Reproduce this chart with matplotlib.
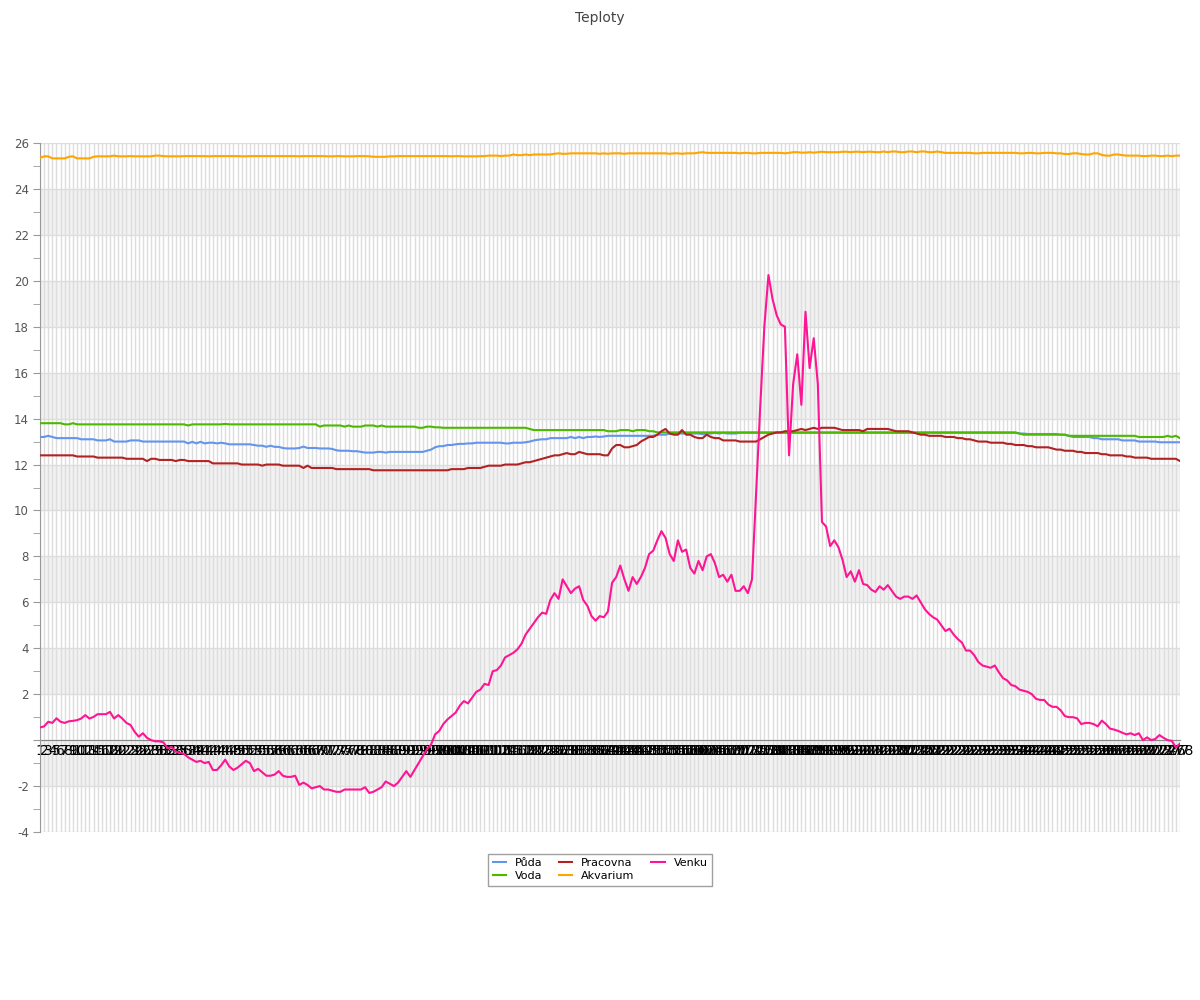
import matplotlib
matplotlib.use("Agg")
import matplotlib.pyplot as plt
import numpy as np

# Temperature readings (one per sample)
venku = [
    0.55, 0.6, 0.8, 0.75, 0.95, 0.8, 0.75, 0.82, 0.84, 0.87,
    0.94, 1.09, 0.94, 1.01, 1.13, 1.13, 1.13, 1.23, 0.94, 1.09,
    0.94, 0.75, 0.66, 0.36, 0.15, 0.3, 0.1, 0.0, -0.05, -0.05,
    -0.1, -0.35, -0.3, -0.5, -0.55, -0.6, -0.75, -0.85, -0.95, -0.9,
    -1.0, -0.95, -1.3, -1.3, -1.1, -0.85, -1.15, -1.3, -1.2, -1.05,
    -0.9, -1.0, -1.35, -1.25, -1.4, -1.55, -1.55, -1.5, -1.35, -1.55,
    -1.6, -1.6, -1.55, -1.95, -1.85, -1.95, -2.1, -2.05, -2.0, -2.15,
    -2.15, -2.2, -2.25, -2.25, -2.15, -2.15, -2.15, -2.15, -2.15, -2.05,
    -2.3, -2.25, -2.15, -2.05, -1.8, -1.9, -2.0, -1.85, -1.6, -1.35,
    -1.6, -1.3, -1.0, -0.7, -0.4, -0.2, 0.25, 0.4, 0.7, 0.9,
    1.05, 1.2, 1.5, 1.7, 1.6, 1.85, 2.1, 2.2, 2.45, 2.4,
    3.0, 3.05, 3.25, 3.6, 3.7, 3.8, 3.95, 4.2, 4.6, 4.85,
    5.1, 5.35, 5.55, 5.5, 6.1, 6.4, 6.15, 7.0, 6.7, 6.4,
    6.6, 6.7, 6.1, 5.85, 5.4, 5.2, 5.4, 5.35, 5.6, 6.85,
    7.1, 7.6, 7.0, 6.5, 7.1, 6.8, 7.1, 7.5, 8.1, 8.25,
    8.7, 9.1, 8.8, 8.1, 7.8, 8.7, 8.2, 8.3, 7.5, 7.25,
    7.8, 7.4, 8.0, 8.1, 7.7, 7.1, 7.2, 6.9, 7.2, 6.5,
    6.5, 6.7, 6.4, 7.0, 10.8, 14.5, 18.0, 20.25, 19.2, 18.5,
    18.1, 18.0, 12.4, 15.5, 16.8, 14.6, 18.65, 16.2, 17.5, 15.5,
    9.5, 9.3, 8.45, 8.7, 8.4, 7.85, 7.1, 7.35, 6.9, 7.4,
    6.8, 6.75, 6.55, 6.45, 6.7, 6.55, 6.75, 6.5, 6.25, 6.15,
    6.25, 6.25, 6.15, 6.3, 6.0, 5.7, 5.5, 5.35, 5.25, 5.0,
    4.75, 4.85, 4.6, 4.4, 4.25, 3.9, 3.9, 3.7, 3.4, 3.25,
    3.2, 3.15, 3.25, 2.95, 2.7, 2.6, 2.4, 2.35, 2.2, 2.15,
    2.1, 2.0, 1.8, 1.75, 1.75, 1.55, 1.45, 1.45, 1.3, 1.05,
    1.0, 1.0, 0.95, 0.7, 0.75, 0.75, 0.7, 0.6, 0.85, 0.7,
    0.5, 0.46, 0.4, 0.32, 0.25, 0.3, 0.22, 0.3, 0.0, 0.12,
    0.0, 0.05, 0.22, 0.1, 0.0, -0.03, -0.32, -0.15,
]

akvarium = [
    25.35, 25.42, 25.42, 25.33, 25.33, 25.33, 25.33, 25.4, 25.42, 25.33,
    25.33, 25.33, 25.33, 25.4, 25.42, 25.42, 25.42, 25.42, 25.45, 25.42,
    25.42, 25.42, 25.43, 25.42, 25.42, 25.42, 25.42, 25.42, 25.45, 25.45,
    25.43, 25.42, 25.42, 25.42, 25.42, 25.43, 25.43, 25.43, 25.43, 25.43,
    25.43, 25.42, 25.43, 25.43, 25.43, 25.43, 25.43, 25.43, 25.43, 25.42,
    25.42, 25.43, 25.43, 25.43, 25.43, 25.43, 25.43, 25.43, 25.43, 25.43,
    25.43, 25.43, 25.43, 25.42, 25.43, 25.43, 25.43, 25.43, 25.43, 25.43,
    25.42, 25.42, 25.43, 25.43, 25.42, 25.42, 25.42, 25.43, 25.43, 25.43,
    25.42, 25.4, 25.4, 25.4, 25.4, 25.42, 25.42, 25.43, 25.43, 25.43,
    25.43, 25.43, 25.43, 25.43, 25.43, 25.43, 25.43, 25.43, 25.43, 25.43,
    25.42, 25.43, 25.43, 25.42, 25.42, 25.42, 25.42, 25.43, 25.43, 25.45,
    25.45, 25.45, 25.43, 25.45, 25.45, 25.5, 25.47, 25.47, 25.5, 25.47,
    25.5, 25.5, 25.5, 25.5, 25.5, 25.53, 25.55, 25.53, 25.53, 25.55,
    25.55, 25.55, 25.55, 25.55, 25.55, 25.55, 25.53, 25.55, 25.53, 25.55,
    25.55, 25.55, 25.53, 25.55, 25.55, 25.55, 25.55, 25.55, 25.55, 25.55,
    25.55, 25.55, 25.55, 25.53, 25.55, 25.55, 25.53, 25.55, 25.55, 25.55,
    25.58, 25.6, 25.57, 25.57, 25.57, 25.57, 25.57, 25.57, 25.57, 25.57,
    25.55, 25.57, 25.57, 25.55, 25.55, 25.57, 25.57, 25.57, 25.57, 25.57,
    25.57, 25.55, 25.57, 25.6, 25.6, 25.58, 25.58, 25.6, 25.58, 25.6,
    25.62, 25.6, 25.6, 25.6, 25.6, 25.62, 25.62, 25.6, 25.62, 25.62,
    25.6, 25.62, 25.62, 25.6, 25.6, 25.63, 25.6, 25.63, 25.63, 25.6,
    25.6, 25.63, 25.63, 25.6, 25.63, 25.63, 25.6, 25.6, 25.63, 25.6,
    25.57, 25.57, 25.57, 25.57, 25.57, 25.57, 25.57, 25.55, 25.55, 25.57,
    25.57, 25.57, 25.57, 25.57, 25.57, 25.57, 25.57, 25.57, 25.55, 25.55,
    25.57, 25.57, 25.55, 25.55, 25.57, 25.57, 25.57, 25.55, 25.55, 25.52,
    25.52, 25.55, 25.55, 25.52, 25.5, 25.5, 25.55, 25.55, 25.48, 25.45,
    25.45, 25.5, 25.5, 25.47, 25.45, 25.45, 25.45, 25.45, 25.43, 25.43,
    25.45, 25.45, 25.43, 25.43, 25.45, 25.43, 25.45, 25.45,
]

voda = [
    13.8, 13.8, 13.8, 13.8, 13.8, 13.8, 13.75, 13.75, 13.8, 13.75,
    13.75, 13.75, 13.75, 13.75, 13.75, 13.75, 13.75, 13.75, 13.75, 13.75,
    13.75, 13.75, 13.75, 13.75, 13.75, 13.75, 13.75, 13.75, 13.75, 13.75,
    13.75, 13.75, 13.75, 13.75, 13.75, 13.75, 13.7, 13.75, 13.75, 13.75,
    13.75, 13.75, 13.75, 13.75, 13.75, 13.77, 13.75, 13.75, 13.75, 13.75,
    13.75, 13.75, 13.75, 13.75, 13.75, 13.75, 13.75, 13.75, 13.75, 13.75,
    13.75, 13.75, 13.75, 13.75, 13.75, 13.75, 13.75, 13.75, 13.65, 13.7,
    13.7, 13.7, 13.7, 13.7, 13.65, 13.7, 13.65, 13.65, 13.65, 13.7,
    13.7, 13.7, 13.65, 13.7, 13.65, 13.65, 13.65, 13.65, 13.65, 13.65,
    13.65, 13.65, 13.6, 13.6, 13.65, 13.65, 13.62, 13.62, 13.6, 13.6,
    13.6, 13.6, 13.6, 13.6, 13.6, 13.6, 13.6, 13.6, 13.6, 13.6,
    13.6, 13.6, 13.6, 13.6, 13.6, 13.6, 13.6, 13.6, 13.6, 13.55,
    13.5, 13.5, 13.5, 13.5, 13.5, 13.5, 13.5, 13.5, 13.5, 13.5,
    13.5, 13.5, 13.5, 13.5, 13.5, 13.5, 13.5, 13.5, 13.45, 13.45,
    13.45, 13.5, 13.5, 13.5, 13.45, 13.5, 13.5, 13.5, 13.45, 13.45,
    13.4, 13.4, 13.4, 13.4, 13.4, 13.4, 13.4, 13.4, 13.4, 13.4,
    13.4, 13.4, 13.4, 13.4, 13.4, 13.4, 13.4, 13.4, 13.4, 13.4,
    13.4, 13.4, 13.4, 13.4, 13.4, 13.4, 13.4, 13.4, 13.4, 13.4,
    13.4, 13.4, 13.4, 13.4, 13.4, 13.4, 13.4, 13.4, 13.4, 13.4,
    13.4, 13.4, 13.4, 13.4, 13.4, 13.4, 13.4, 13.4, 13.4, 13.4,
    13.4, 13.4, 13.4, 13.4, 13.4, 13.4, 13.4, 13.4, 13.4, 13.4,
    13.4, 13.4, 13.4, 13.4, 13.4, 13.4, 13.4, 13.4, 13.4, 13.4,
    13.4, 13.4, 13.4, 13.4, 13.4, 13.4, 13.4, 13.4, 13.4, 13.4,
    13.4, 13.4, 13.4, 13.4, 13.4, 13.4, 13.4, 13.4, 13.35, 13.3,
    13.3, 13.3, 13.3, 13.3, 13.3, 13.3, 13.3, 13.3, 13.3, 13.3,
    13.25, 13.25, 13.25, 13.25, 13.25, 13.25, 13.25, 13.25, 13.25, 13.25,
    13.25, 13.25, 13.25, 13.25, 13.25, 13.25, 13.25, 13.2, 13.2, 13.2,
    13.2, 13.2, 13.2, 13.2, 13.25, 13.2, 13.25, 13.15,
]

puda = [
    13.2, 13.2, 13.25, 13.2, 13.15, 13.15, 13.15, 13.15, 13.15, 13.15,
    13.1, 13.1, 13.1, 13.1, 13.05, 13.05, 13.05, 13.1, 13.0, 13.0,
    13.0, 13.0, 13.05, 13.05, 13.05, 13.0, 13.0, 13.0, 13.0, 13.0,
    13.0, 13.0, 13.0, 13.0, 13.0, 13.0, 12.92, 12.99, 12.92, 12.99,
    12.92, 12.95, 12.95, 12.92, 12.95, 12.92, 12.88, 12.88, 12.88, 12.88,
    12.88, 12.88, 12.85, 12.82, 12.82, 12.77, 12.82, 12.77, 12.77, 12.72,
    12.7, 12.7, 12.7, 12.72, 12.78, 12.72, 12.72, 12.72, 12.7, 12.7,
    12.7, 12.68, 12.62, 12.6, 12.6, 12.6, 12.58, 12.58, 12.55, 12.52,
    12.52, 12.52, 12.55, 12.55, 12.52, 12.55, 12.55, 12.55, 12.55, 12.55,
    12.55, 12.55, 12.55, 12.55, 12.6, 12.65, 12.75, 12.8, 12.8, 12.85,
    12.85, 12.88, 12.9, 12.9, 12.92, 12.92, 12.95, 12.95, 12.95, 12.95,
    12.95, 12.95, 12.95, 12.92, 12.92, 12.95, 12.95, 12.95, 12.97, 13.0,
    13.05, 13.08, 13.1, 13.1, 13.15, 13.15, 13.15, 13.15, 13.15, 13.2,
    13.15, 13.2, 13.15, 13.2, 13.2, 13.22, 13.2, 13.22, 13.25, 13.25,
    13.25, 13.25, 13.25, 13.25, 13.25, 13.25, 13.25, 13.25, 13.25, 13.25,
    13.3, 13.3, 13.3, 13.35, 13.35, 13.35, 13.35, 13.35, 13.35, 13.35,
    13.35, 13.32, 13.35, 13.35, 13.38, 13.35, 13.38, 13.35, 13.35, 13.35,
    13.38, 13.38, 13.38, 13.38, 13.38, 13.38, 13.38, 13.38, 13.38, 13.38,
    13.38, 13.38, 13.38, 13.38, 13.38, 13.38, 13.38, 13.38, 13.38, 13.38,
    13.38, 13.38, 13.38, 13.38, 13.38, 13.38, 13.38, 13.38, 13.38, 13.38,
    13.38, 13.38, 13.38, 13.38, 13.38, 13.38, 13.38, 13.38, 13.38, 13.38,
    13.38, 13.38, 13.38, 13.38, 13.38, 13.38, 13.38, 13.38, 13.38, 13.38,
    13.38, 13.38, 13.38, 13.38, 13.38, 13.38, 13.38, 13.38, 13.38, 13.38,
    13.38, 13.38, 13.38, 13.38, 13.38, 13.38, 13.38, 13.38, 13.35, 13.35,
    13.33, 13.33, 13.33, 13.33, 13.33, 13.33, 13.33, 13.33, 13.3, 13.3,
    13.25, 13.2, 13.2, 13.2, 13.2, 13.2, 13.15, 13.15, 13.1, 13.1,
    13.1, 13.1, 13.1, 13.05, 13.05, 13.05, 13.05, 13.0, 13.0, 13.0,
    13.0, 13.0, 12.97, 12.97, 12.97, 12.97, 12.97, 12.97,
]

pracovna = [
    12.4, 12.4, 12.4, 12.4, 12.4, 12.4, 12.4, 12.4, 12.4, 12.35,
    12.35, 12.35, 12.35, 12.35, 12.3, 12.3, 12.3, 12.3, 12.3, 12.3,
    12.3, 12.25, 12.25, 12.25, 12.25, 12.25, 12.15, 12.25, 12.25, 12.2,
    12.2, 12.2, 12.2, 12.15, 12.2, 12.2, 12.15, 12.15, 12.15, 12.15,
    12.15, 12.15, 12.05, 12.05, 12.05, 12.05, 12.05, 12.05, 12.05, 12.0,
    12.0, 12.0, 12.0, 12.0, 11.95, 12.0, 12.0, 12.0, 12.0, 11.95,
    11.95, 11.95, 11.95, 11.95, 11.85, 11.95, 11.85, 11.85, 11.85, 11.85,
    11.85, 11.85, 11.8, 11.8, 11.8, 11.8, 11.8, 11.8, 11.8, 11.8,
    11.8, 11.75, 11.75, 11.75, 11.75, 11.75, 11.75, 11.75, 11.75, 11.75,
    11.75, 11.75, 11.75, 11.75, 11.75, 11.75, 11.75, 11.75, 11.75, 11.75,
    11.8, 11.8, 11.8, 11.8, 11.85, 11.85, 11.85, 11.85, 11.9, 11.95,
    11.95, 11.95, 11.95, 12.0, 12.0, 12.0, 12.0, 12.05, 12.1, 12.1,
    12.15, 12.2, 12.25, 12.3, 12.35, 12.4, 12.4, 12.45, 12.5, 12.45,
    12.45, 12.55, 12.5, 12.45, 12.45, 12.45, 12.45, 12.4, 12.4, 12.7,
    12.85, 12.85, 12.75, 12.75, 12.8, 12.85, 13.0, 13.1, 13.2, 13.2,
    13.3, 13.45, 13.55, 13.35, 13.3, 13.3, 13.5, 13.3, 13.3, 13.2,
    13.15, 13.15, 13.3, 13.2, 13.15, 13.15, 13.05, 13.05, 13.05, 13.05,
    13.0, 13.0, 13.0, 13.0, 13.0, 13.1, 13.2, 13.3, 13.35, 13.4,
    13.4, 13.45, 13.45, 13.45, 13.5, 13.55, 13.5, 13.55, 13.6, 13.55,
    13.6, 13.6, 13.6, 13.6, 13.55, 13.5, 13.5, 13.5, 13.5, 13.5,
    13.45, 13.55, 13.55, 13.55, 13.55, 13.55, 13.55, 13.5, 13.45, 13.45,
    13.45, 13.45, 13.4, 13.35, 13.3, 13.3, 13.25, 13.25, 13.25, 13.25,
    13.2, 13.2, 13.2, 13.15, 13.15, 13.1, 13.1, 13.05, 13.0, 13.0,
    13.0, 12.95, 12.95, 12.95, 12.95, 12.9, 12.9, 12.85, 12.85, 12.85,
    12.8, 12.8, 12.75, 12.75, 12.75, 12.75, 12.7, 12.65, 12.65, 12.6,
    12.6, 12.6, 12.55, 12.55, 12.5, 12.5, 12.5, 12.5, 12.45, 12.45,
    12.4, 12.4, 12.4, 12.4, 12.35, 12.35, 12.3, 12.3, 12.3, 12.3,
    12.25, 12.25, 12.25, 12.25, 12.25, 12.25, 12.25, 12.15,
]

labels = [str(i + 1) for i in range(len(venku))]
x = np.arange(len(venku))

series = [
    ("Půda", puda, "#6495ed"),
    ("Voda", voda, "#4cb800"),
    ("Pracovna", pracovna, "#b22222"),
    ("Akvarium", akvarium, "#ffa500"),
    ("Venku", venku, "#ff1493"),
]

fig = plt.figure(figsize=(12, 10), dpi=100)
ax = fig.add_axes([40 / 1200, 1 - 832 / 1000, 1140 / 1200, 689 / 1000])

# alternating background bands
for lo in range(-2, 26, 4):
    ax.axhspan(lo, lo + 2, color="#f2f2f2", zorder=0, lw=0)
for yv in range(-4, 27, 2):
    ax.axhline(yv, color="#dddddd", lw=1, zorder=1)

for name, vals, col in series:
    ax.plot(x, vals, color=col, lw=1.5, label=name, zorder=3)

ax.set_xlim(0, len(venku) - 1)
ax.set_ylim(-4, 26)

# category ticks: gridline per sample, labels sit on the zero line
ax.set_xticks(x)
ax.set_xticklabels(labels, fontsize=7.5, color="#444444")
ax.tick_params(axis="x", length=0, pad=3)
ax.xaxis.grid(True, color="#dddddd", lw=1, zorder=1)
ax.set_axisbelow(True)

ax.spines["bottom"].set_position(("data", 0))
ax.spines["bottom"].set_color("#888888")
ax.spines["bottom"].set_zorder(2)
ax.spines["top"].set_visible(False)
ax.spines["right"].set_visible(False)
ax.spines["left"].set_color("#999999")

yt = list(range(-4, 27, 2))
ax.set_yticks(yt)
ax.set_yticklabels(["" if v == 0 else str(v) for v in yt], fontsize=8.5, color="#555555")
ax.set_yticks(range(-4, 27), minor=True)
ax.tick_params(axis="y", which="both", length=5, color="#999999", pad=3)

fig.text(0.5, 0.989, "Teploty", ha="center", va="top", fontsize=10, color="#444444")

fig.legend(loc="upper center", bbox_to_anchor=(0.5, 0.152), ncol=3, fontsize=8,
           frameon=True, fancybox=False, edgecolor="#888888", handlelength=1.2,
           columnspacing=1.5, borderpad=0.4, labelspacing=0.3)

fig.savefig("out.png", dpi=100)
